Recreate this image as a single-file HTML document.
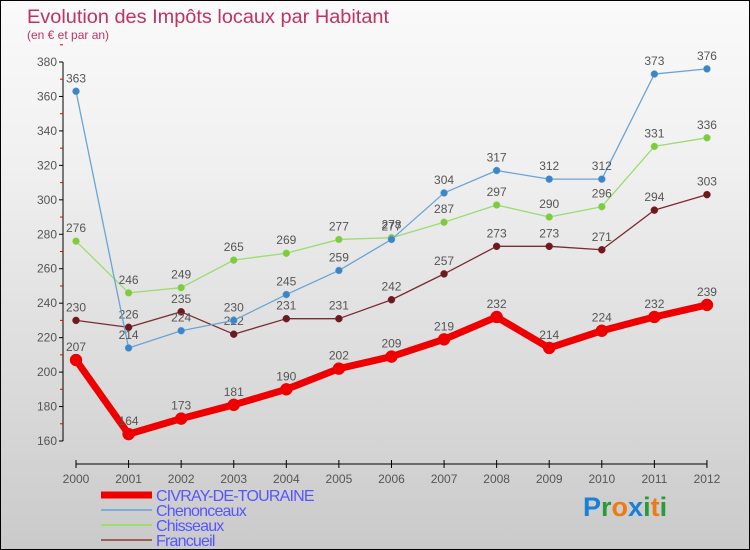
<!DOCTYPE html>
<html><head><meta charset="utf-8"><style>
body{margin:0}
#wrap{position:relative;width:748px;height:548px;border:1px solid #000;background:linear-gradient(#fafafa,#f0f0f0 30%,#cacaca);font-family:"Liberation Sans",sans-serif;overflow:hidden}
svg{position:absolute;left:0;top:0}
</style></head><body>
<div id="wrap">
<svg id="c" width="748" height="548">
<text x="26" y="22" font-size="19" fill="#c0335f" textLength="362" lengthAdjust="spacingAndGlyphs">Evolution des Impôts locaux par Habitant</text>
<text x="26" y="38" font-size="12" fill="#c0335f">(en € et par an)</text>
</svg>
</div>
<script>
const years=[2000,2001,2002,2003,2004,2005,2006,2007,2008,2009,2010,2011,2012];
const civray=[207,164,173,181,190,202,209,219,232,214,224,232,239];
const chenonceaux=[363,214,224,230,245,259,277,304,317,312,312,373,376];
const chisseaux=[276,246,249,265,269,277,278,287,297,290,296,331,336];
const francueil=[230,226,235,222,231,231,242,257,273,273,271,294,303];
const yTicks=[160,180,200,220,240,260,280,300,320,340,360,380];
const svg=document.getElementById('c');const NS='http://www.w3.org/2000/svg';
const X=i=>75+i*52.58;const Y=v=>440-(v-160)*(379/220);
function el(t,a,name){const e=document.createElementNS(NS,t);for(const k in a)e.setAttribute(k,a[k]);


svg.appendChild(e);return e;}
el('line',{x1:62,y1:Y(380),x2:62,y2:Y(160),stroke:'#000'},'y-axis');
yTicks.forEach(v=>{el('line',{x1:58,y1:Y(v),x2:62,y2:Y(v),stroke:'#000'},'y-tick');
el('line',{x1:59,y1:Y(v+10),x2:62,y2:Y(v+10),stroke:'#e00'},'y-minor-tick');
const t=el('text',{x:56,y:Y(v)+4,'font-size':12,'text-anchor':'end',fill:'#555'},'y-tick-label');t.textContent=v;});
el('line',{x1:75,y1:463,x2:706,y2:463,stroke:'#000'},'x-axis');
years.forEach((y,i)=>{el('line',{x1:X(i),y1:459,x2:X(i),y2:467,stroke:'#000'},'x-tick');
const t=el('text',{x:X(i),y:482,'font-size':12,'text-anchor':'middle',fill:'#555'},'x-tick-label');t.textContent=y;});
function series(d,col,w,r,dot,name){
el('polyline',{points:d.map((v,i)=>X(i)+','+Y(v)).join(' '),fill:'none',stroke:col,'stroke-width':w,'stroke-linejoin':'round'},name+'-line');
d.forEach((v,i)=>{el('circle',{cx:X(i),cy:Y(v),r:r,fill:dot,stroke:col,'stroke-width':0.5},name+'-point');
const t=el('text',{x:X(i),y:Y(v)-9,'font-size':12,'text-anchor':'middle',fill:'#555'},name+'-value-label');t.textContent=v;});}
series(francueil,'#7a2a30',1.3,3.5,'#6a1a20','francueil');
series(chisseaux,'#9cdc70',1.3,3.5,'#7ecb40','chisseaux');
series(chenonceaux,'#6aa4d4',1.3,3.5,'#3a86c8','chenonceaux');
series(civray,'#ee0000',7,6,'#ee0000','civray');
const leg=[['CIVRAY-DE-TOURAINE','#ee0000',7],['Chenonceaux','#7aaed8',2],['Chisseaux','#9cdc70',2],['Francueil','#9a6060',2]];
leg.forEach((l,i)=>{const y=494+i*15;
el('line',{x1:100,y1:y,x2:151,y2:y,stroke:l[1],'stroke-width':l[2]},'legend-swatch');
const t=el('text',{x:155,y:y+6,'font-size':16,fill:'#5555ff','letter-spacing':'-0.8'},'legend-entry');t.textContent=l[0];});
const logo=el('text',{x:582,y:515,'font-size':27,'font-weight':'bold'},'proxiti-logo');
[['P','#1a7fd6'],['r','#2a9a3a'],['o','#f07a10'],['x','#1a7fd6'],['i','#2a9a3a'],['t','#f07a10'],['i','#2a9a3a']].forEach(p=>{const s=document.createElementNS(NS,'tspan');s.setAttribute('fill',p[1]);s.textContent=p[0];logo.appendChild(s);});
</script>
</body></html>
